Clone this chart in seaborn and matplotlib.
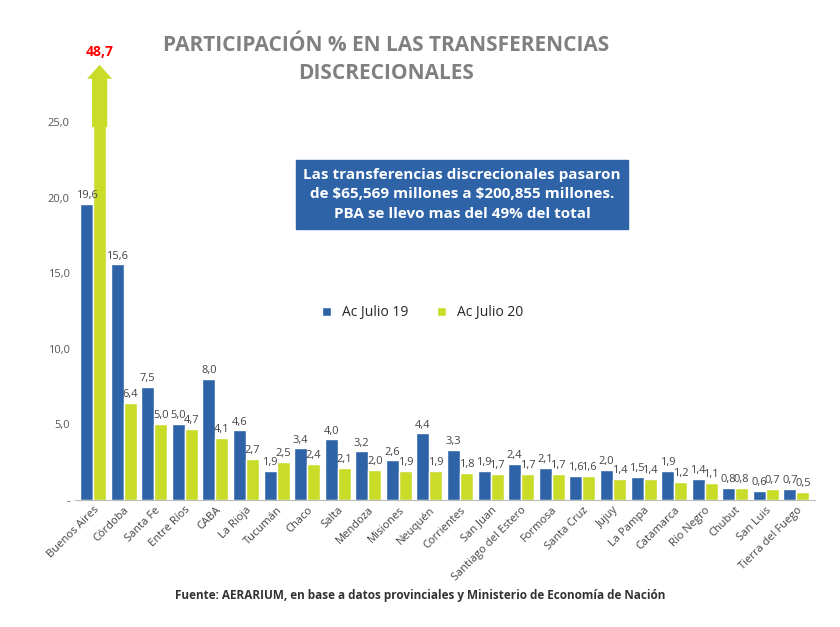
import matplotlib
matplotlib.use("Agg")
import matplotlib.pyplot as plt
import seaborn as sns
import pandas as pd
import numpy as np

provincias = ["Buenos Aires","Córdoba","Santa Fe","Entre Ríos","CABA","La Rioja","Tucumán","Chaco","Salta",
              "Mendoza","Misiones","Neuquén","Corrientes","San Juan","Santiago del Estero","Formosa","Santa Cruz",
              "Jujuy","La Pampa","Catamarca","Río Negro","Chubut","San Luis","Tierra del Fuego"]
jul19 = [19.6,15.6,7.5,5.0,8.0,4.6,1.9,3.4,4.0,3.2,2.6,4.4,3.3,1.9,2.4,2.1,1.6,2.0,1.5,1.9,1.4,0.8,0.6,0.7]
jul20 = [48.7,6.4,5.0,4.7,4.1,2.7,2.5,2.4,2.1,2.0,1.9,1.9,1.8,1.7,1.7,1.7,1.6,1.4,1.4,1.2,1.1,0.8,0.7,0.5]
series = ["Ac Julio 19","Ac Julio 20"]
cap = 25.0

df = pd.DataFrame({
    "prov": provincias*2,
    "serie": [series[0]]*len(provincias) + [series[1]]*len(provincias),
    "valor": jul19 + jul20,
})
df["dibujo"] = df["valor"].clip(upper=cap)

sns.set_style("white")
plt.rcParams['font.family'] = ['Open Sans', 'DejaVu Sans']
fig = plt.figure(figsize=(8.4, 6.27), dpi=100)
ax = fig.add_axes([0.089, 0.203, 0.881, 0.71])
pal = {"Ac Julio 19": "#2e63a8", "Ac Julio 20": "#c8dc28"}
sns.barplot(data=df, x="prov", y="dibujo", hue="serie", palette=pal, ax=ax, width=0.85, saturation=1)

for cont, vals in zip(ax.containers, [jul19, jul20]):
    labs = [("" if v > cap else f"{v:.1f}".replace(".", ",")) for v in vals]
    ax.bar_label(cont, labels=labs, padding=2, fontsize=8, color="#444444")

bar = ax.containers[1][0]
xc = bar.get_x() + bar.get_width()/2
ax.annotate("", xy=(xc, 29.0), xytext=(xc, 24.5),
            arrowprops=dict(arrowstyle="simple,head_width=1.8,head_length=1.0,tail_width=1.1",
                            color="#c8dc28", lw=0))
ax.text(xc, 29.2, f"{jul20[0]:.1f}".replace(".", ","), color="red", fontsize=10,
        fontweight="bold", ha="center", va="bottom")

ax.set_ylim(0, 29.5)
ax.set_yticks([0, 5, 10, 15, 20, 25])
ax.set_yticklabels(["-", "5,0", "10,0", "15,0", "20,0", "25,0"], fontsize=8, color="#555555")
ax.set_xlabel(""); ax.set_ylabel("")
ax.tick_params(axis="x", labelsize=8, colors="#444444", length=0)
ax.tick_params(axis="y", length=0)
plt.setp(ax.get_xticklabels(), rotation=45, ha="right", rotation_mode="anchor")
for s in ["top", "right", "left"]:
    ax.spines[s].set_visible(False)
ax.spines["bottom"].set_color("#bbbbbb")
ax.set_xlim(-0.6, len(provincias)-0.4)

ax.legend(loc="center", bbox_to_anchor=(0.47, 0.42), ncol=2, frameon=False, fontsize=10,
          handlelength=0.7, handleheight=0.7, columnspacing=2.0)

fig.text(0.46, 0.905, "PARTICIPACIÓN % EN LAS TRANSFERENCIAS\nDISCRECIONALES", ha="center", va="center",
         fontsize=15, fontweight="bold", color="#808080", linespacing=1.4)
fig.text(0.55, 0.69, "Las transferencias discrecionales pasaron\nde \\$65,569 millones a \\$200,855 millones.\nPBA se llevo mas del 49% del total",
         ha="center", va="center", fontsize=11, fontweight="bold", color="white", linespacing=1.5,
         bbox=dict(boxstyle="square,pad=0.5", fc="#2e63a8", ec="#2e63a8"))
fig.text(0.5, 0.045, "Fuente: AERARIUM, en base a datos provinciales y Ministerio de Economía de Nación",
         ha="center", fontsize=8.5, fontweight="bold", color="#333333")
fig.savefig("out.png", dpi=100)
